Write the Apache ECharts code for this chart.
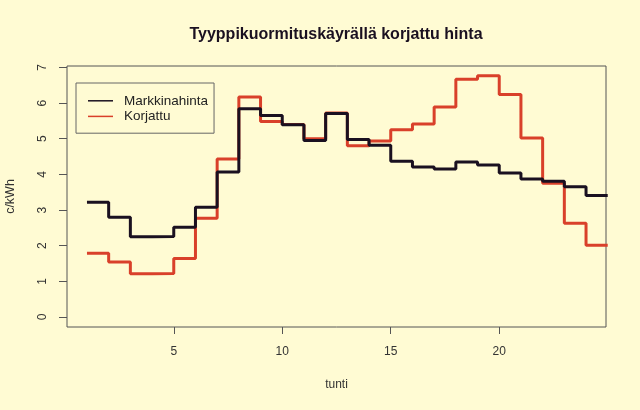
<!DOCTYPE html>
<html>
	<head>
		<meta http-equiv="Content-Type" content="text/html; charset=utf-8" />
		<title>korjattu hinta</title>
		<script type="text/javascript" src="https://cdn.jsdelivr.net/npm/echarts@6/dist/echarts.min.js"></script>
		<style>
			html, body { margin: 0; padding: 0; background: #fffbd3; }
		</style>
	</head>
	<body>
		<div id='content' style="width:640px;height:410px;"></div>
	</body>
	<script>
		// hour at which each step starts
		var hours = [1, 2, 3, 4, 5, 6, 7, 8, 9, 10, 11, 12, 13, 14, 15, 16, 17, 18, 19, 20, 21, 22, 23, 24];
		var markkinahinta = [3.22, 2.80, 2.25, 2.26, 2.52, 3.08, 4.07, 5.84, 5.65, 5.39, 4.95, 5.71,
			4.98, 4.82, 4.37, 4.21, 4.15, 4.35, 4.26, 4.04, 3.87, 3.81, 3.65, 3.41];
		var korjattu = [1.79, 1.54, 1.21, 1.22, 1.64, 2.77, 4.43, 6.17, 5.48, 5.40, 5.00, 5.72,
			4.80, 4.94, 5.25, 5.41, 5.89, 6.67, 6.77, 6.24, 5.02, 3.75, 2.63, 2.01];
		var xTicks = [5, 10, 15, 20];
		var yTicks = [0, 1, 2, 3, 4, 5, 6, 7];

		// each value holds from its hour to the next one
		function steps(vals) {
			var d = hours.map(function (h, i) { return [h, vals[i]]; });
			d.push([hours[hours.length - 1] + 1, vals[vals.length - 1]]);
			return d;
		}

		var myChart = echarts.init(document.getElementById('content'));
		var font = 'Liberation Sans, Arial, sans-serif';

		myChart.setOption({
			backgroundColor: '#fffbd3',
			animation: false,
			textStyle: { fontFamily: font },
			title: {
				text: 'Tyyppikuormituskäyrällä korjattu hinta',
				left: 331,
				top: 22,
				textAlign: 'center',
				textStyle: { fontSize: 16, fontWeight: 'bold', color: '#1a1020', fontFamily: font }
			},
			legend: {
				orient: 'vertical',
				left: 76,
				top: 83,
				padding: [10, 6, 9, 12],
				icon: 'rect',
				itemWidth: 25,
				itemHeight: 1.5,
				itemGap: 0,
				borderColor: '#666',
				borderWidth: 1,
				borderRadius: 0,
				textStyle: { fontSize: 13.5, color: '#222', padding: [0, 0, 0, 6], lineHeight: 15.6, fontFamily: font },
				data: ['Markkinahinta', 'Korjattu']
			},
			grid: {
				left: 67,
				right: 34,
				top: 66,
				bottom: 83,
				outerBoundsMode: 'none',
				show: true,
				borderColor: '#555',
				borderWidth: 1
			},
			xAxis: {
				type: 'value',
				min: 0.08,
				max: 24.92,
				name: 'tunti',
				nameLocation: 'middle',
				nameGap: 52,
				nameTextStyle: { fontSize: 12, color: '#333' },
				splitLine: { show: false },
				axisLine: { show: false, onZero: false },
				axisTick: { show: true, length: 7, customValues: xTicks, lineStyle: { color: '#555' } },
				axisLabel: { customValues: xTicks, fontSize: 12, color: '#333', margin: 19 }
			},
			yAxis: {
				type: 'value',
				min: -0.28,
				max: 7.04,
				name: 'c/kWh',
				nameLocation: 'middle',
				nameGap: 50,
				nameTextStyle: { fontSize: 12.5, color: '#333' },
				splitLine: { show: false },
				axisLine: { show: false, onZero: false },
				axisTick: { show: true, length: 8, customValues: yTicks, lineStyle: { color: '#555' } },
				axisLabel: { customValues: yTicks, fontSize: 12, color: '#333', rotate: 90, margin: 18 }
			},
			series: [
				{
					name: 'Markkinahinta',
					type: 'line',
					step: 'end',
					symbol: 'none',
					color: '#1a1020',
					lineStyle: { width: 3, color: '#1a1020' },
					data: steps(markkinahinta),
					z: 3
				},
				{
					name: 'Korjattu',
					type: 'line',
					step: 'end',
					symbol: 'none',
					color: '#d9402a',
					lineStyle: { width: 3, color: '#d9402a' },
					data: steps(korjattu),
					z: 2
				}
			]
		});
	</script>
</html>
